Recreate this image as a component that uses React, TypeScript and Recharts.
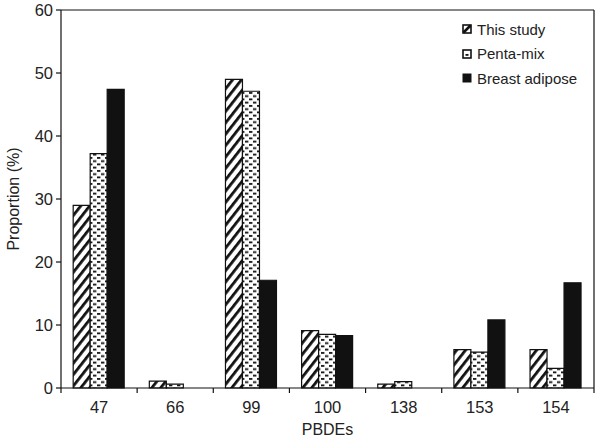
import React from 'react';
import { BarChart, Bar, XAxis, YAxis, ReferenceLine } from 'recharts';

const categories = ['47', '66', '99', '100', '138', '153', '154'];
const thisStudy = [29, 1.1, 49, 9.1, 0.6, 6.1, 6.1];
const pentaMix = [37.2, 0.6, 47.1, 8.5, 1.0, 5.7, 3.1];
const breastAdipose = [47.4, 0, 17.1, 8.3, 0, 10.8, 16.7];
const yTicks = [0, 10, 20, 30, 40, 50, 60];

const data = categories.map((c, i) => ({
  name: c,
  thisStudy: thisStudy[i],
  pentaMix: pentaMix[i],
  breastAdipose: breastAdipose[i],
}));

const font = '"Liberation Sans", Arial, Helvetica, sans-serif';
const ink = '#111';

const XTick = (props: any) => {
  const { x, y, payload, index } = props;
  const half = payload && payload.offset ? payload.offset : 38;
  return (
    <g>
      <line x1={x - half} x2={x - half} y1={y} y2={y + 5} stroke={ink} strokeWidth={1.2} />
      {index === categories.length - 1 && (
        <line x1={x + half} x2={x + half} y1={y} y2={y + 5} stroke={ink} strokeWidth={1.2} />
      )}
      <text x={x} y={y + 13} dy="0.71em" textAnchor="middle" fontSize={16.5} fill="#222" fontFamily={font}>
        {payload.value}
      </text>
    </g>
  );
};

const LegendIcon = ({ kind }: { kind: string }) => (
  <svg width={10} height={10} style={{ display: 'block' }}>
    {kind === 'solid' ? (
      <rect x={0.5} y={0.5} width={9} height={9} fill={ink} />
    ) : (
      <rect x={1} y={1} width={8} height={8} fill="#fff" stroke={ink} strokeWidth={1.6} />
    )}
    {kind === 'hatch' && <line x1={1.5} y1={8.5} x2={8.5} y2={1.5} stroke={ink} strokeWidth={2.6} />}
    {kind === 'dots' && <rect x={3.5} y={5} width={3} height={1.8} fill={ink} />}
  </svg>
);

const legendItems = [
  { label: 'This study', kind: 'hatch' },
  { label: 'Penta-mix', kind: 'dots' },
  { label: 'Breast adipose', kind: 'solid' },
];

export default function App() {
  return (
    <div style={{ position: 'absolute', left: 0, top: 0, width: 600, height: 444, background: '#fff', fontFamily: font }}>
      <BarChart
        width={600}
        height={444}
        data={data}
        margin={{ top: 10, right: 6, left: 0, bottom: 0 }}
        barCategoryGap="16%"
        barGap={0}
      >
        <defs>
          <pattern id="hatch" width="7" height="7" patternUnits="userSpaceOnUse" patternTransform="rotate(38)">
            <rect width="7" height="7" fill="#fff" />
            <rect x="0" y="0" width="2.8" height="7" fill={ink} />
          </pattern>
          <pattern id="dots" width="8" height="6.5" patternUnits="userSpaceOnUse">
            <rect width="8" height="6.5" fill="#fff" />
            <rect x="1" y="1" width="3.4" height="1.8" fill={ink} />
            <rect x="5" y="4.25" width="3.4" height="1.8" fill={ink} />
            <rect x="-3" y="4.25" width="3.4" height="1.8" fill={ink} />
          </pattern>
        </defs>
        <XAxis
          dataKey="name"
          height={56}
          axisLine={{ stroke: ink, strokeWidth: 1.2 }}
          tickLine={false}
          tickMargin={0}
          tickSize={0}
          interval={0}
          tick={<XTick />}
          label={{ value: 'PBDEs', position: 'insideBottom', offset: 9, fontSize: 16, fill: '#222' }}
        />
        <YAxis
          width={61}
          domain={[0, 60]}
          ticks={yTicks}
          interval={0}
          axisLine={{ stroke: ink, strokeWidth: 1.2 }}
          tickLine={{ stroke: ink, strokeWidth: 1.2 }}
          tickSize={5}
          tickMargin={3}
          tick={{ fontSize: 16.5, fill: '#222' }}
          label={{
            value: 'Proportion (%)',
            angle: -90,
            position: 'insideLeft',
            offset: 13,
            fontSize: 16,
            fill: '#222',
            style: { textAnchor: 'middle' },
          }}
        />
        <YAxis
          yAxisId="right"
          orientation="right"
          mirror
          domain={[0, 60]}
          ticks={yTicks}
          interval={0}
          axisLine={{ stroke: ink, strokeWidth: 1.2 }}
          tickLine={{ stroke: ink, strokeWidth: 1 }}
          tickSize={3}
          tickFormatter={() => ''}
        />
        <ReferenceLine y={60} stroke={ink} strokeWidth={1.2} />
        <Bar dataKey="thisStudy" name="This study" fill="url(#hatch)" stroke={ink} strokeWidth={1.2} isAnimationActive={false} />
        <Bar dataKey="pentaMix" name="Penta-mix" fill="url(#dots)" stroke={ink} strokeWidth={1.2} isAnimationActive={false} />
        <Bar dataKey="breastAdipose" name="Breast adipose" fill={ink} stroke={ink} strokeWidth={1.2} isAnimationActive={false} />
      </BarChart>
      <div style={{ position: 'absolute', left: 462, top: 17 }}>
        {legendItems.map((it) => (
          <div key={it.label} style={{ display: 'flex', alignItems: 'center', height: 24.5 }}>
            <LegendIcon kind={it.kind} />
            <span style={{ marginLeft: 5, fontSize: 15, color: '#222', lineHeight: '15px' }}>{it.label}</span>
          </div>
        ))}
      </div>
    </div>
  );
}
